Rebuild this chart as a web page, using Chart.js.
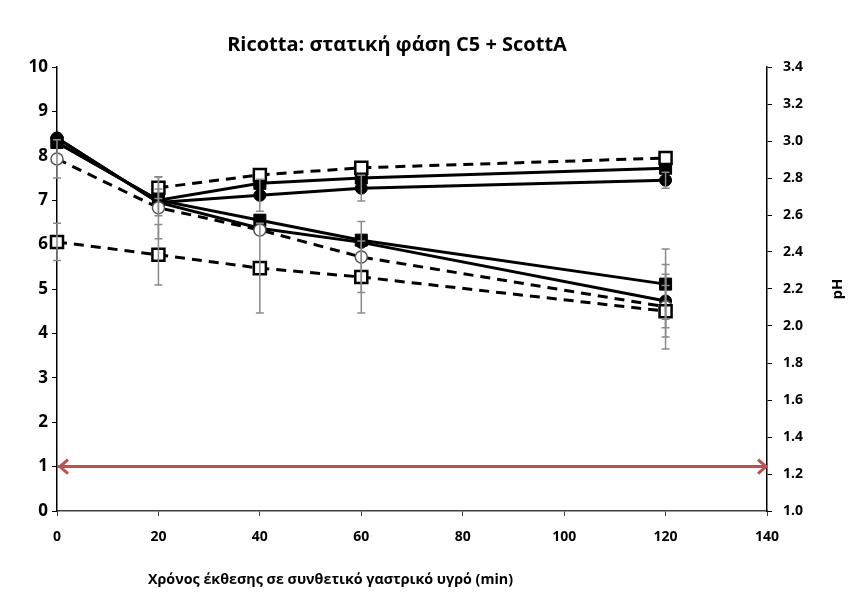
<!DOCTYPE html>
<html>
<head>
<meta charset="utf-8">
<script src="https://cdn.jsdelivr.net/npm/chart.js@4/dist/chart.umd.min.js"></script>
<style>
  html, body { margin: 0; padding: 0; background: #ffffff; }
  #wrap { width: 850px; height: 600px; }
</style>
</head>
<body>
<div id="wrap"><canvas id="c" width="850" height="600"></canvas></div>
<script>
// Sampling times (min) in simulated gastric fluid
const times = [0, 20, 40, 60, 120];

// Upper group
const sqSolidUp   = [8.30, 7.00, 7.38, 7.50, 7.72];
const ciSolidUp   = [8.40, 6.95, 7.11, 7.27, 7.45];
const sqDashUp    = [null, 7.28, 7.57, 7.73, 7.95];
// Lower group
const sqSolidDown = [8.30, 7.00, 6.55, 6.10, 5.11];
const ciSolidDown = [8.40, 6.95, 6.37, 6.05, 4.73];
const ciDashDown  = [7.93, 6.83, 6.33, 5.72, 4.60];
const sqDashDown  = [6.06, 5.77, 5.47, 5.27, 4.50];

// Standard deviations (same order as the values)
const errSqSolidUp   = [null, null, null, null, null];
const errCiSolidUp   = [null, 0.30, 0.36, 0.29, 0.18];
const errSqDashUp    = [null, 0.24, null, null, null];
const errSqSolidDown = [null, null, null, null, 0.79];
const errCiSolidDown = [null, null, null, null, 0.60];
const errCiDashDown  = [0.43, 0.70, null, 0.80, 0.95];
const errSqDashDown  = [0.42, 0.68, 1.01, 0.81, 0.58];

// Reference level (red double arrow)
const limitLevel = 1;
const limitSpan = [0, 140];

// Axis ranges / tick steps
const xRange = [0, 140], xStep = 20;
const yRange = [0, 10], yStep = 1;
const phRange = [1.0, 3.4], phStep = 0.2;

const titleText = 'Ricotta: στατική φάση C5 + ScottA';
const xTitleText = 'Χρόνος έκθεσης σε συνθετικό γαστρικό υγρό (min)';
const phTitleText = 'pH';

Chart.defaults.font.family = "'Open Sans', 'Noto Sans', sans-serif";
Chart.defaults.color = '#000';

function pts(vals) {
  return times.map((t, i) => ({ x: t, y: vals[i] })).filter(p => p.y !== null);
}
function errs(vals, e) {
  return times.map((t, i) => ({ x: t, y: vals[i], e: e[i] })).filter(p => p.y !== null && p.e !== null);
}

function series(vals, e, style, filled, dashed, open) {
  return {
    data: pts(vals),
    errorBars: errs(vals, e),
    yAxisID: 'y',
    clip: false,
    borderColor: '#000',
    borderWidth: 3,
    borderDash: dashed ? [10, 7] : [],
    pointStyle: style,
    pointRadius: style === 'rect' ? 8.5 : 6,
    pointBackgroundColor: filled ? '#000' : '#fff',
    pointBorderColor: open ? '#555' : '#000',
    pointBorderWidth: open ? 1.5 : (filled ? 1 : 2.5),
    tension: 0,
    fill: false
  };
}

const datasets = [
  series(sqDashDown,  errSqDashDown,  'rect',   false, true,  false),
  series(ciDashDown,  errCiDashDown,  'circle', false, true,  true),
  series(sqDashUp,    errSqDashUp,    'rect',   false, true,  false),
  series(ciSolidDown, errCiSolidDown, 'circle', true,  false, false),
  series(ciSolidUp,   errCiSolidUp,   'circle', true,  false, false),
  series(sqSolidDown, errSqSolidDown, 'rect',   true,  false, false),
  series(sqSolidUp,   errSqSolidUp,   'rect',   true,  false, false),
  {
    data: limitSpan.map(x => ({ x: x, y: limitLevel })),
    yAxisID: 'y',
    clip: false,
    borderColor: '#c0504d',
    borderWidth: 3,
    pointRadius: 0,
    isArrow: true,
    fill: false
  }
];

// Error bars, arrow heads and free-standing text
const decorations = {
  id: 'decorations',
  afterDatasetsDraw(chart) {
    const ctx = chart.ctx;
    const xs = chart.scales.x, ys = chart.scales.y;
    ctx.save();
    ctx.strokeStyle = '#8a8a8a';
    ctx.lineWidth = 1.5;
    chart.data.datasets.forEach(ds => {
      (ds.errorBars || []).forEach(p => {
        const px = xs.getPixelForValue(p.x);
        const top = ys.getPixelForValue(p.y + p.e);
        const bot = ys.getPixelForValue(p.y - p.e);
        ctx.beginPath();
        ctx.moveTo(px, top); ctx.lineTo(px, bot);
        ctx.moveTo(px - 4, top); ctx.lineTo(px + 4, top);
        ctx.moveTo(px - 4, bot); ctx.lineTo(px + 4, bot);
        ctx.stroke();
      });
      if (ds.isArrow) {
        const y = ys.getPixelForValue(limitLevel);
        const x0 = xs.getPixelForValue(limitSpan[0]) + 3;
        const x1 = xs.getPixelForValue(limitSpan[1]) - 1;
        ctx.strokeStyle = ds.borderColor;
        ctx.lineWidth = 3;
        ctx.lineJoin = 'miter';
        ctx.beginPath();
        ctx.moveTo(x0 + 8, y - 7); ctx.lineTo(x0, y); ctx.lineTo(x0 + 8, y + 7);
        ctx.moveTo(x1 - 8, y - 7); ctx.lineTo(x1, y); ctx.lineTo(x1 - 8, y + 7);
        ctx.stroke();
        ctx.strokeStyle = '#8a8a8a';
        ctx.lineWidth = 1.5;
      }
    });
    ctx.restore();
  },
  afterDraw(chart) {
    const ctx = chart.ctx;
    ctx.save();
    ctx.fillStyle = '#000';
    ctx.textBaseline = 'middle';
    ctx.textAlign = 'center';
    ctx.font = "bold 20px 'Open Sans', sans-serif";
    ctx.fillText(titleText, 397, 45);
    ctx.textAlign = 'left';
    ctx.font = "bold 14.3px 'Open Sans', sans-serif";
    ctx.fillText(xTitleText, 148, 580);
    ctx.translate(838, 289);
    ctx.rotate(-Math.PI / 2);
    ctx.textAlign = 'center';
    ctx.font = "bold 15px 'Open Sans', sans-serif";
    ctx.fillText(phTitleText, 0, 0);
    ctx.restore();
  }
};

new Chart(document.getElementById('c'), {
  type: 'line',
  data: { datasets: datasets },
  plugins: [decorations],
  options: {
    responsive: false,
    animation: false,
    devicePixelRatio: 1,
    layout: { padding: { top: 67, left: 0, right: 0, bottom: 0 } },
    plugins: {
      legend: { display: false },
      title: { display: false },
      tooltip: { enabled: false }
    },
    scales: {
      x: {
        type: 'linear',
        min: xRange[0], max: xRange[1],
        ticks: { stepSize: xStep, font: { size: 14, weight: 'bold' }, color: '#000', padding: 13 },
        grid: { drawOnChartArea: false, tickLength: 5, color: '#404040' },
        border: { color: '#404040', width: 1.5 },
        afterFit(s) { s.height = 89; }
      },
      y: {
        position: 'left',
        min: yRange[0], max: yRange[1],
        ticks: { stepSize: yStep, font: { size: 17, weight: 'bold' }, color: '#000', padding: 4 },
        grid: { drawOnChartArea: false, tickLength: 5, color: '#000' },
        border: { color: '#000', width: 1.5 },
        afterFit(s) { s.width = 57; }
      },
      y2: {
        position: 'right',
        min: phRange[0], max: phRange[1],
        ticks: {
          stepSize: phStep, font: { size: 14, weight: 'bold' }, color: '#000', padding: 11,
          callback: v => Number(v).toFixed(1)
        },
        grid: { drawOnChartArea: false, tickLength: 5, color: '#000' },
        border: { color: '#000', width: 1.5 },
        afterFit(s) { s.width = 83; }
      }
    }
  }
});
</script>
</body>
</html>
